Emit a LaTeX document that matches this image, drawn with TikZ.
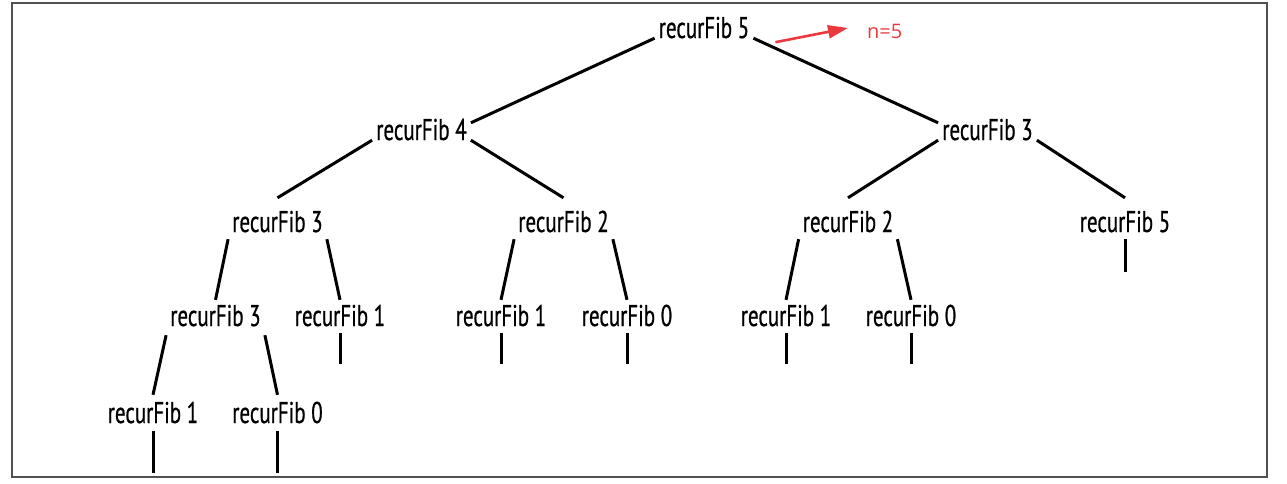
\documentclass[tikz,border=0pt]{standalone}
\usepackage{fontspec}
\setmainfont[FakeStretch=0.7,FakeBold=0.6]{PT Sans}
\newfontfamily\notefont{Open Sans}
\usetikzlibrary{arrows.meta,positioning}
\definecolor{callred}{HTML}{EA3A3F}
\definecolor{framegray}{HTML}{505050}

\begin{document}
\begin{tikzpicture}[x=1pt,y=-1pt,
  fib/.style={inner xsep=4pt,inner ysep=0pt,text height=17pt,text depth=0pt,
    anchor=base,font=\fontsize{30}{33}\selectfont},
  branch/.style={line width=3pt},
  stub/.style={line width=3pt},
  note/.style={inner sep=0pt,anchor=base west,text=callred,font=\notefont\fontsize{20}{23}\selectfont},
  notearrow/.style={callred,line width=2.6pt,-{Triangle[length=20pt,width=13pt]}}]
  \useasboundingbox (0,0) rectangle (1287,483);
  % frame
  \draw[framegray,line width=1.3pt] (12,3) rectangle (1267,477);

  % root and its note
  \node[fib] (root) at (704,38) {recurFib 5};
  \node[note] (n5) at (867,38) {n=5};
  \draw[notearrow] ([shift={(22pt,-4pt)}]root.south east) -- ([shift={(-19pt,3pt)}]n5.west);

  % level 1
  \node[fib] (fa) at (421.5,140) {recurFib 4};
  \node[fib] (fb) at (987.5,140) {recurFib 3};

  % level 2
  \node[fib] (faa) at (277.5,232) {recurFib 3};
  \node[fib] (fab) at (563.5,232) {recurFib 2};
  \node[fib] (fba) at (848,232) {recurFib 2};
  \node[fib] (fbb) at (1125,232) {recurFib 5};

  % level 3
  \node[fib] (faaa) at (215.5,326) {recurFib 3};
  \node[fib] (faab) at (340,326) {recurFib 1};
  \node[fib] (faba) at (501,326) {recurFib 1};
  \node[fib] (fabb) at (627,326) {recurFib 0};
  \node[fib] (fbaa) at (786,326) {recurFib 1};
  \node[fib] (fbab) at (911,326) {recurFib 0};

  % level 4
  \node[fib] (faaaa) at (153,423) {recurFib 1};
  \node[fib] (faaab) at (277.5,423) {recurFib 0};

  % edges
  \draw[branch] (root.south west) -- (fa.north east);
  \draw[branch] (root.south east) -- (fb.north west);
  \draw[branch] (fa.south west) -- ([yshift=17pt]faa.north);
  \draw[branch] (fa.south east) -- ([yshift=17pt]fab.north);
  \draw[branch] (fb.south west) -- ([yshift=17pt]fba.north);
  \draw[branch] (fb.south east) -- ([yshift=17pt]fbb.north);
  \draw[branch] ([yshift=-7pt]faa.south west) -- ([yshift=9pt]faaa.north);
  \draw[branch] ([yshift=-7pt]faa.south east) -- ([yshift=9pt]faab.north);
  \draw[branch] ([yshift=-7pt]fab.south west) -- ([yshift=9pt]faba.north);
  \draw[branch] ([yshift=-7pt]fab.south east) -- ([yshift=9pt]fabb.north);
  \draw[branch] ([yshift=-7pt]fba.south west) -- ([yshift=9pt]fbaa.north);
  \draw[branch] ([yshift=-7pt]fba.south east) -- ([yshift=9pt]fbab.north);
  \draw[branch] ([yshift=-9pt]faaa.south west) -- ([yshift=11pt]faaaa.north);
  \draw[branch] ([yshift=-9pt]faaa.south east) -- ([yshift=11pt]faaab.north);

  % open ends
  \coordinate (ebb) at ([yshift=-40pt]fbb.south);
  \coordinate (eaab) at ([yshift=-38pt]faab.south);
  \coordinate (eaba) at ([yshift=-38pt]faba.south);
  \coordinate (eabb) at ([yshift=-38pt]fabb.south);
  \coordinate (ebaa) at ([yshift=-38pt]fbaa.south);
  \coordinate (ebab) at ([yshift=-38pt]fbab.south);
  \coordinate (eaaaa) at ([yshift=-50pt]faaaa.south);
  \coordinate (eaaab) at ([yshift=-50pt]faaab.south);
  \draw[stub] ([yshift=-7pt]fbb.south) -- (ebb);
  \draw[stub] ([yshift=-7pt]faab.south) -- (eaab);
  \draw[stub] ([yshift=-7pt]faba.south) -- (eaba);
  \draw[stub] ([yshift=-7pt]fabb.south) -- (eabb);
  \draw[stub] ([yshift=-7pt]fbaa.south) -- (ebaa);
  \draw[stub] ([yshift=-7pt]fbab.south) -- (ebab);
  \draw[stub] ([yshift=-8pt]faaaa.south) -- (eaaaa);
  \draw[stub] ([yshift=-8pt]faaab.south) -- (eaaab);
\end{tikzpicture}
\end{document}
